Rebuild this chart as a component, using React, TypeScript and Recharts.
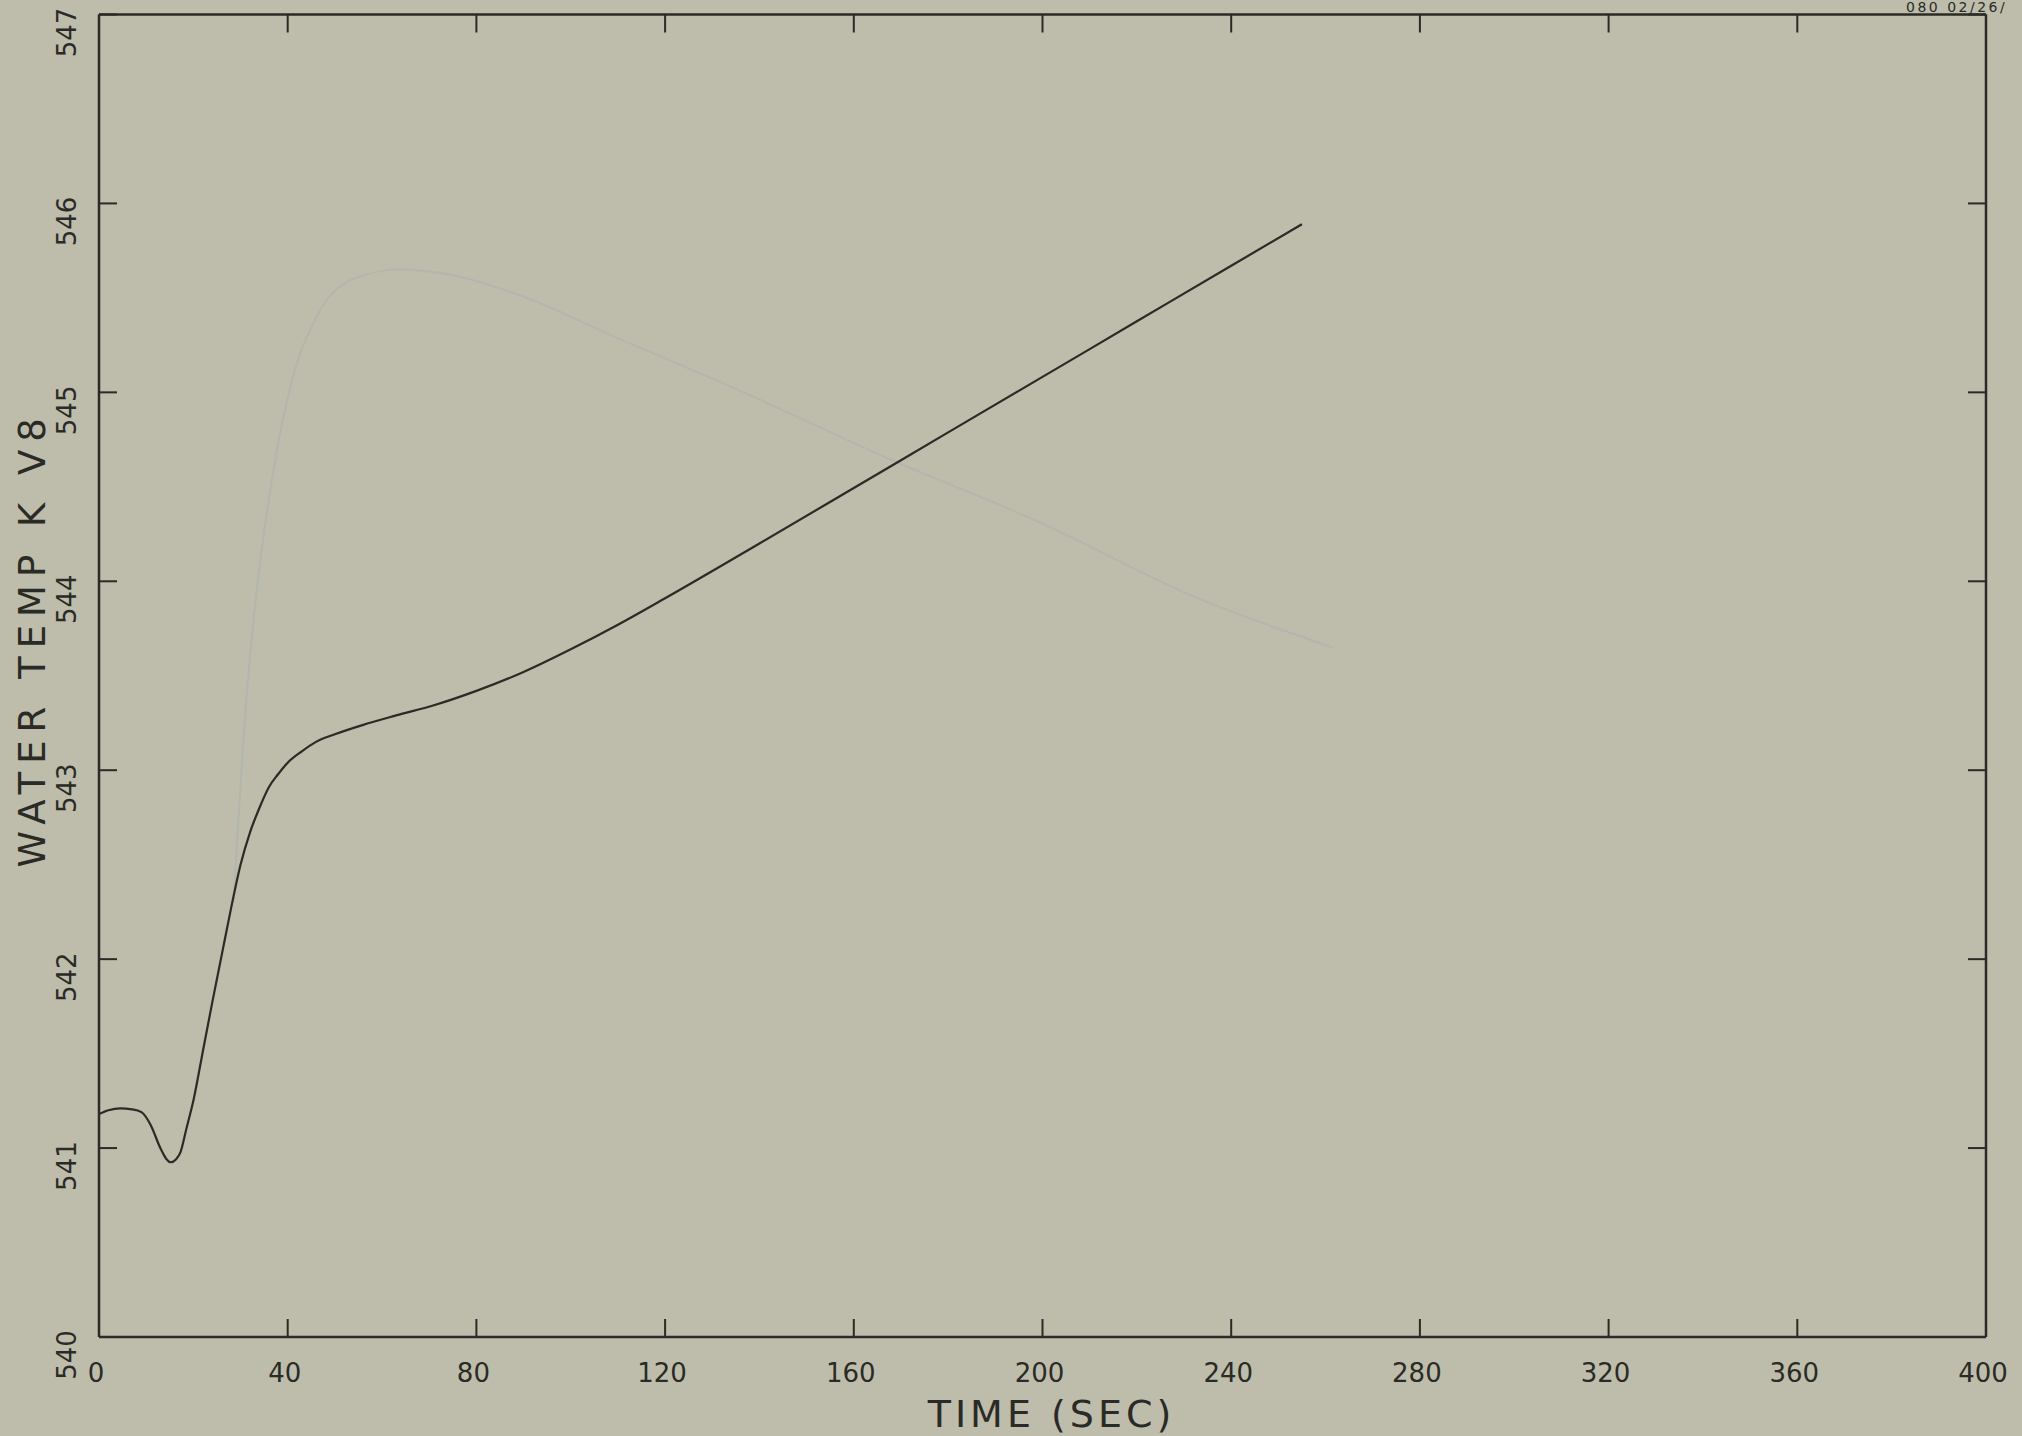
import { LineChart, Line, XAxis, YAxis } from 'recharts';

// V8 water temperature trace
const tempTime = [0, 2, 4.5, 7, 9, 11, 13, 14.2, 15.2, 16.3, 17.3, 18.5, 20, 22, 24, 26, 28, 30, 32, 34, 36, 38, 40, 43, 46, 50, 56, 63, 71, 80, 90, 100, 110, 120, 140, 160, 180, 200, 220, 240, 255];
const tempValue = [541.18, 541.2, 541.21, 541.205, 541.19, 541.12, 541.0, 540.945, 540.925, 540.94, 540.98, 541.1, 541.25, 541.51, 541.77, 542.02, 542.27, 542.5, 542.67, 542.8, 542.91, 542.98, 543.04, 543.1, 543.15, 543.19, 543.24, 543.29, 543.344, 543.42, 543.52, 543.64, 543.77, 543.91, 544.2, 544.494, 544.788, 545.082, 545.376, 545.67, 545.89];

// faint curve showing through from the back of the sheet
const ghostTime = [28.5, 31.3, 33.7, 36.1, 41, 45.9, 53.9, 63.7, 75, 89.6, 110.6, 134.9, 167.3, 199.6, 232, 261.5];
const ghostValue = [542.3, 543.39, 544.01, 544.45, 545.07, 545.39, 545.6, 545.65, 545.62, 545.51, 545.28, 545.02, 544.65, 544.31, 543.92, 543.65];

const xTicks = [0, 40, 80, 120, 160, 200, 240, 280, 320, 360, 400];
const yTicks = [540, 541, 542, 543, 544, 545, 546, 547];

const tempData = tempTime.map((t, i) => ({ t, v: tempValue[i] }));
const ghostData = ghostTime.map((t, i) => ({ t, v: ghostValue[i] }));

const INK = '#2a2a26';
const FONT = '"DejaVu Sans", sans-serif';
const TICK = 18;

const BottomTick = ({ x, y, payload }: any) => (
  <g>
    <line x1={x} y1={y} x2={x} y2={y - TICK} stroke={INK} strokeWidth={2} />
    <text x={x - 3} y={y + 45} textAnchor="middle" fontSize={26} fontFamily={FONT} fill={INK}>
      {payload.value}
    </text>
  </g>
);

const TopTick = ({ x, y }: any) => (
  <line x1={x} y1={y} x2={x} y2={y + TICK} stroke={INK} strokeWidth={2} />
);

const LeftTick = ({ x, y, payload }: any) => (
  <g>
    <line x1={x} y1={y} x2={x + TICK} y2={y} stroke={INK} strokeWidth={2} />
    <text
      x={67}
      y={y + 18}
      transform={`rotate(-90 67 ${y + 18})`}
      textAnchor="middle"
      dominantBaseline="central"
      fontSize={26}
      fontFamily={FONT}
      fill={INK}
    >
      {payload.value}
    </text>
  </g>
);

const RightTick = ({ x, y }: any) => (
  <line x1={x} y1={y} x2={x - TICK} y2={y} stroke={INK} strokeWidth={2} />
);

const YTitle = ({ viewBox }: any) => {
  const cx = 32;
  const cy = viewBox.y + viewBox.height / 2 - 37;
  return (
    <text
      x={cx}
      y={cy}
      transform={`rotate(-90 ${cx} ${cy})`}
      textAnchor="middle"
      dominantBaseline="central"
      fontSize={37}
      letterSpacing={8}
      fontFamily={FONT}
      fill={INK}
    >
      WATER TEMP K V8
    </text>
  );
};

const XTitle = ({ viewBox }: any) => (
  <text
    x={viewBox.x + viewBox.width / 2 + 9}
    y={viewBox.y + 90}
    textAnchor="middle"
    fontSize={38}
    letterSpacing={4}
    fontFamily={FONT}
    fill={INK}
  >
    TIME (SEC)
  </text>
);

export default function App() {
  return (
    <div style={{ position: 'absolute', left: 0, top: 0, width: 2022, height: 1436, background: '#bebdab', overflow: 'hidden' }}>
      <div
        style={{ position: 'absolute', left: 1906, top: 0, fontSize: 14, lineHeight: '14px', fontFamily: FONT, color: INK, letterSpacing: 2.5, whiteSpace: 'nowrap' }}
      >
        080 02/26/
      </div>
      <LineChart width={2022} height={1436} margin={{ top: 0, right: 0, bottom: 0, left: 0 }}>
        <XAxis
          xAxisId="bottom"
          dataKey="t"
          type="number"
          domain={[0, 400]}
          ticks={xTicks}
          interval={0}
          height={99}
          tickSize={0}
          tickMargin={0}
          tickLine={false}
          axisLine={{ stroke: INK, strokeWidth: 2.5 }}
          tick={<BottomTick />}
          label={XTitle}
          allowDataOverflow
        />
        <XAxis
          xAxisId="top"
          orientation="top"
          dataKey="t"
          type="number"
          domain={[0, 400]}
          ticks={xTicks}
          interval={0}
          height={14.5}
          tickSize={0}
          tickMargin={0}
          tickLine={false}
          axisLine={{ stroke: INK, strokeWidth: 2.5 }}
          tick={<TopTick />}
          allowDataOverflow
        />
        <YAxis
          yAxisId="left"
          type="number"
          domain={[540, 547]}
          ticks={yTicks}
          interval={0}
          width={99}
          tickSize={0}
          tickMargin={0}
          tickLine={false}
          axisLine={{ stroke: INK, strokeWidth: 2.5 }}
          tick={<LeftTick />}
          label={YTitle}
          allowDataOverflow
        />
        <YAxis
          yAxisId="right"
          orientation="right"
          type="number"
          domain={[540, 547]}
          ticks={yTicks}
          interval={0}
          width={36}
          tickSize={0}
          tickMargin={0}
          tickLine={false}
          axisLine={{ stroke: INK, strokeWidth: 2.5 }}
          tick={<RightTick />}
          allowDataOverflow
        />
        <Line
          xAxisId="bottom"
          yAxisId="left"
          data={ghostData}
          dataKey="v"
          type="monotone"
          stroke="#b3b6ad"
          strokeWidth={2}
          dot={false}
          isAnimationActive={false}
        />
        <Line
          xAxisId="bottom"
          yAxisId="left"
          data={tempData}
          dataKey="v"
          type="monotone"
          stroke={INK}
          strokeWidth={2.2}
          dot={false}
          isAnimationActive={false}
        />
      </LineChart>
    </div>
  );
}
